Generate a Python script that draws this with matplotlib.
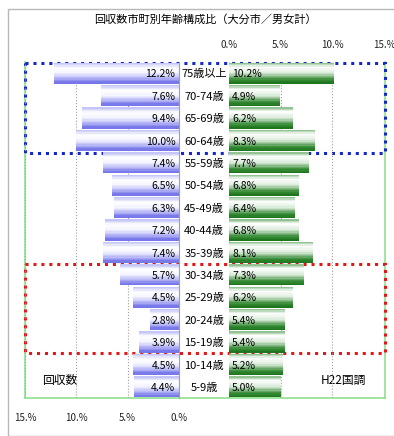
import numpy as np
import matplotlib
matplotlib.use('Agg')
import matplotlib.pyplot as plt
from matplotlib.patches import Rectangle

plt.rcParams['font.family'] = ['Noto Sans CJK JP', 'DejaVu Sans']

ages = ['75歳以上', '70-74歳', '65-69歳', '60-64歳', '55-59歳', '50-54歳', '45-49歳',
        '40-44歳', '35-39歳', '30-34歳', '25-29歳', '20-24歳', '15-19歳', '10-14歳', '5-9歳']
survey = [12.2, 7.6, 9.4, 10.0, 7.4, 6.5, 6.3, 7.2, 7.4, 5.7, 4.5, 2.8, 3.9, 4.5, 4.4]
census = [10.2, 4.9, 6.2, 8.3, 7.7, 6.8, 6.4, 6.8, 8.1, 7.3, 6.2, 5.4, 5.4, 5.2, 5.0]
ticks = [0, 5, 10, 15]
tick_labels = ['0.%', '5.%', '10.%', '15.%']

W, H = 394, 436
fig = plt.figure(figsize=(W / 100, H / 100), dpi=100)

# outer grey frame
fig.add_artist(Rectangle((8 / W, 0), 1, 1 - 9 / H, transform=fig.transFigure,
                         fill=False, edgecolor='#b8b8b8', lw=1))
fig.text(205 / W, 1 - 20 / H, '回収数市町別年齢構成比（大分市／男女計）',
         ha='center', va='center', fontsize=8)

bot = (H - 398) / H
hgt = 336 / H
n = len(ages)

# gradient profiles (top -> bottom of each bar)
def profile(stops, t):
    pos = [s[0] for s in stops]
    return tuple(np.interp(t, pos, [s[1][c] for s in stops]) for c in range(3))

blue_stops = [(0, (0.74, 0.74, 0.97)), (0.25, (1, 1, 1)), (0.5, (0.95, 0.95, 1.0)),
              (0.75, (0.70, 0.70, 0.96)), (0.9, (0.48, 0.48, 0.92)), (1.0, (0.46, 0.46, 0.91))]
green_stops = [(0, (0.50, 0.72, 0.50)), (0.2, (1, 1, 1)), (0.5, (0.85, 0.92, 0.85)),
               (0.8, (0.22, 0.55, 0.22)), (1.0, (0.10, 0.45, 0.10))]

frame = fig.add_axes([25 / W, bot, 360 / W, hgt])
frame.set_xlim(0, 1)
frame.set_ylim(n, 0)
frame.set_xticks([])
frame.set_yticks([])
for s in frame.spines.values():
    s.set_color('#90e090')
    s.set_linewidth(1.2)
frame.spines['top'].set_visible(False)

axl = fig.add_axes([25 / W, bot, 154 / W, hgt])
axr = fig.add_axes([229 / W, bot, 155 / W, hgt])
axl.set_xlim(15, 0)
axr.set_xlim(0, 15)
for ax in (axl, axr):
    ax.set_ylim(n, 0)
    ax.patch.set_visible(False)
    ax.set_yticks([])
    for s in ax.spines.values():
        s.set_visible(False)
    ax.grid(axis='x', color='#a0a0a0', linestyle=':', lw=0.8)
    ax.set_axisbelow(True)
    ax.set_xticks(ticks)
    ax.tick_params(axis='x', length=0, labelsize=7)
axl.spines['right'].set_visible(True)
axl.spines['right'].set_color('#a0a0a0')
axl.set_xticklabels(tick_labels, color='#222222')
axl.tick_params(axis='x', pad=11)
axr.xaxis.tick_top()
axr.set_xticklabels(tick_labels, color='#222222')
axr.tick_params(axis='x', pad=9)

N = 16
y = np.arange(n)
for k in range(N):
    t = (k + 0.5) / N
    yc = y + 0.03 + t * 0.94
    axl.barh(yc, survey, height=0.94 / N + 0.005, color=profile(blue_stops, t), lw=0)
    axr.barh(yc, census, height=0.94 / N + 0.005, color=profile(green_stops, t), lw=0)

for i in range(n):
    axl.text(0.35, i + 0.55, f'{survey[i]:.1f}%', ha='right', va='center', fontsize=7.5)
    axr.text(0.3, i + 0.55, f'{census[i]:.1f}%', ha='left', va='center', fontsize=7.5)
    axr.text(-2.4, i + 0.55, ages[i], ha='center', va='center', fontsize=8,
             clip_on=False)

# highlighted groups
frame.add_patch(Rectangle((0, 0.05), 1, 4, fill=False, edgecolor='#1428c8',
                          lw=2.2, linestyle=(0, (1, 1.6)), clip_on=False, zorder=5))
frame.add_patch(Rectangle((0, 9), 1, 4, fill=False, edgecolor='#e01818',
                          lw=2.2, linestyle=(0, (1, 1.6)), clip_on=False, zorder=5))

frame.text(35 / 360, 14.2, '回収数', ha='center', va='center', fontsize=8.5, zorder=6)
frame.text(318 / 360, 14.2, 'H22国調', ha='center', va='center', fontsize=8.5, zorder=6)

fig.savefig('out.png', dpi=100)
